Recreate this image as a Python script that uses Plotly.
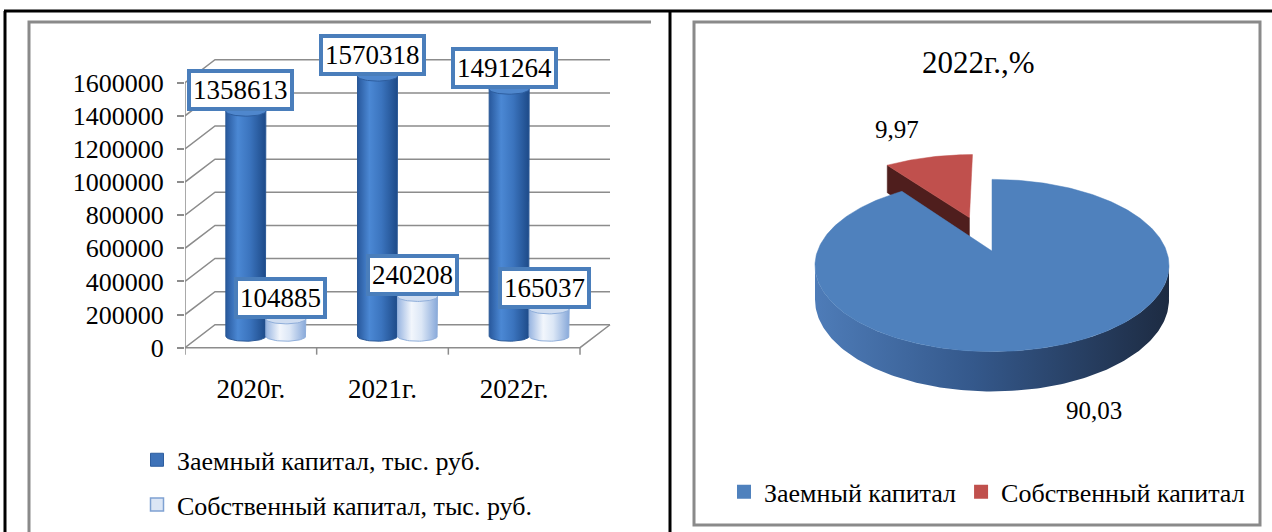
import math
import plotly.graph_objects as go

# ---------------- data ----------------
years = ["2020г.", "2021г.", "2022г."]
borrowed = [1358613, 1570318, 1491264]
equity = [104885, 240208, 165037]
bar_series = ["Заемный капитал, тыс. руб.", "Собственный капитал, тыс. руб."]
y_ticks = [0, 200000, 400000, 600000, 800000, 1000000, 1200000, 1400000, 1600000]

pie_title = "2022г.,%"
pie_labels = ["Заемный капитал", "Собственный капитал"]
pie_values = [90.03, 9.97]

# ---------------- layout constants ----------------
W, H = 1272, 532
FONT = "Liberation Serif, Times New Roman, serif"
GRID = "#8C8C8C"


def fx(p):
    return p / W


def fy(p):
    return (H - p) / H


# left chart scales (pixels)
UNIT_X = 131.67              # px per category
AX_Y0 = 349.0
UNIT_Y = 266.0 / 1600000     # px per value
DX = 30.0 / UNIT_X           # depth offset (x units)
DY = 23.0 / UNIT_Y           # depth offset (y units)
HW = 20.0 / UNIT_X           # cylinder half width
EH = 5.0 / UNIT_Y            # cylinder ellipse half height

XD = (185, 640)
YD_TOP, YD_BOT = 28, 362

fig = go.Figure()

# ---- gridlines / walls (3D) ----
gx, gy = [], []
for v in y_ticks:
    gx += [0, DX, 3 + DX, None]
    gy += [v, v + DY, v + DY, None]
gx += [0, 3, 3 + DX, None, 0, 0]
gy += [0, 0, DY, None, 0, y_ticks[-1]]
fig.add_trace(go.Scatter(x=gx, y=gy, mode="lines", line=dict(color=GRID, width=1.5),
                         hoverinfo="skip", showlegend=False))


# ---- cylinders ----
def cylinder(cx, value, body_scale, cap_color, cap_line, edge):
    b = DY / 2
    t = value + DY / 2
    xs = [cx - HW, cx - HW, cx + HW, cx + HW]
    ys = [b, t, t, b]
    n = 30
    for i in range(n + 1):
        ph = math.pi * i / n
        xs.append(cx + HW * math.cos(ph))
        ys.append(b - EH * math.sin(ph))
    fig.add_trace(go.Scatter(x=xs, y=ys, mode="lines", fill="toself",
                             line=dict(color=edge, width=1),
                             fillgradient=dict(type="horizontal", colorscale=body_scale),
                             hoverinfo="skip", showlegend=False))
    cxs, cys = [], []
    for i in range(61):
        ph = 2 * math.pi * i / 60
        cxs.append(cx + HW * math.cos(ph))
        cys.append(t + EH * math.sin(ph))
    fig.add_trace(go.Scatter(x=cxs, y=cys, mode="lines", fill="toself",
                             fillcolor=cap_color, line=dict(color=cap_line, width=1),
                             hoverinfo="skip", showlegend=False))


DARK_SCALE = [[0, "#28589C"], [0.3, "#4B88D4"], [0.6, "#3B74BE"], [1, "#1D4A88"]]
LIGHT_SCALE = [[0, "#98B5E1"], [0.35, "#F2F6FC"], [0.6, "#DCE7F6"], [1, "#88A9DA"]]

label_annotations = []
for i, yr in enumerate(years):
    c_dark = i + 0.5 + DX / 2 - HW
    c_light = i + 0.5 + DX / 2 + HW
    cylinder(c_dark, borrowed[i], DARK_SCALE, "#4F87CD", "#2E5E9F", "#2A5896")
    cylinder(c_light, equity[i], LIGHT_SCALE, "#CFDDF1", "#8FAEDA", "#8FAEDA")
    for cx, v in ((c_dark, borrowed[i]), (c_light, equity[i])):
        label_annotations.append(dict(
            x=cx, y=v + DY / 2, xref="x", yref="y", text=str(v), showarrow=False,
            yanchor="bottom", xanchor="center", xshift=-5, yshift=0,
            font=dict(family=FONT, size=27, color="black"),
            bgcolor="white", bordercolor="#4A7EBB", borderwidth=4, borderpad=2))

# legend entries for the bar chart
fig.add_trace(go.Scatter(x=[None], y=[None], mode="markers", name=bar_series[0],
                         marker=dict(symbol="square", size=13, color="#3E72B8",
                                     line=dict(color="#2E5E9F", width=1)),
                         legend="legend", legendgroup="a"))
fig.add_trace(go.Scatter(x=[None], y=[None], mode="markers", name=bar_series[1],
                         marker=dict(symbol="square", size=13, color="#DCE6F5",
                                     line=dict(color="#7FA1D2", width=1.5)),
                         legend="legend", legendgroup="b"))

# ---------------- pie (3D look with perspective) ----------------
CX, CY = 992.0, 252.0       # pie centre on screen
RX, RY = 174.5, 84.0        # radii of the tilted disc
PERSP = 0.1676              # perspective strength (back smaller)
DEPTH = 33.3                # thickness (scaled with perspective)
EXPL = 0.45                 # explosion of the second slice


def proj(u, v, dz=False):
    s = 1.0 / (1.0 + PERSP * v)
    x = CX + RX * u * s
    y = CY - RY * v * s
    if dz:
        y += DEPTH * s
    return x, y


def pt(a, ou=0.0, ov=0.0, dz=False):
    r = math.radians(a)
    return proj(ou + math.sin(r), ov + math.cos(r), dz)


total = sum(pie_values)
pie_colors = ["#4F81BD", "#C0504D"]
face_colors = ["#2B4669", "#4F1E1D"]
side_scales = [[[0, "#4E7CB8"], [0.45, "#34588B"], [1, "#1D2B42"]],
               [[0, "#A94744"], [0.5, "#7E3331"], [1, "#4F1E1D"]]]
explode = [0.0, EXPL]

slices = []
acc = 0.0
for i, v in enumerate(pie_values):
    a0 = 360 * acc / total
    acc += v
    a1 = 360 * acc / total
    mid = math.radians((a0 + a1) / 2)
    slices.append((a0, a1, explode[i] * math.sin(mid), explode[i] * math.cos(mid)))

SIL = math.degrees(math.asin(PERSP))
tops = []
for i, (a0, a1, ou, ov) in enumerate(slices):
    # cut faces
    for edge, normal in ((a0, a0 - 90), (a1, a1 + 90)):
        if math.cos(math.radians(normal)) < -1e-6:
            p_out = pt(edge, ou, ov)
            p_outd = pt(edge, ou, ov, True)
            v0 = proj(ou, ov)
            v0d = proj(ou, ov, True)
            fig.add_trace(go.Scatter(
                x=[p_out[0], v0[0], v0d[0], p_outd[0], p_out[0]],
                y=[p_out[1], v0[1], v0d[1], p_outd[1], p_out[1]],
                mode="lines", fill="toself", fillcolor=face_colors[i],
                line=dict(color=face_colors[i], width=0.5),
                xaxis="x2", yaxis="y2", hoverinfo="skip", showlegend=False))
    # outer side
    s0, s1 = max(a0, 90 + SIL), min(a1, 270 - SIL)
    if s1 > s0:
        n = int(s1 - s0) + 1
        angs = [s0 + (s1 - s0) * k / n for k in range(n + 1)]
        top_pts = [pt(a, ou, ov) for a in angs]
        bot_pts = [pt(a, ou, ov, True) for a in reversed(angs)]
        xs = [p[0] for p in top_pts + bot_pts] + [top_pts[0][0]]
        ys = [p[1] for p in top_pts + bot_pts] + [top_pts[0][1]]
        fig.add_trace(go.Scatter(
            x=xs, y=ys, mode="lines", fill="toself",
            fillgradient=dict(type="horizontal", colorscale=side_scales[i]),
            line=dict(width=0), xaxis="x2", yaxis="y2",
            hoverinfo="skip", showlegend=False))
    # top face
    n = max(int(a1 - a0), 4)
    angs = [a0 + (a1 - a0) * k / n for k in range(n + 1)]
    arc = [pt(a, ou, ov) for a in angs]
    vtx = proj(ou, ov)
    xs = [vtx[0]] + [p[0] for p in arc] + [vtx[0]]
    ys = [vtx[1]] + [p[1] for p in arc] + [vtx[1]]
    tops.append(go.Scatter(x=xs, y=ys, mode="lines", fill="toself",
                           fillcolor=pie_colors[i], line=dict(color=pie_colors[i], width=0.5),
                           xaxis="x2", yaxis="y2", hoverinfo="skip", showlegend=False))
for t in tops:
    fig.add_trace(t)

# pie legend
for i, name in enumerate(pie_labels):
    fig.add_trace(go.Scatter(x=[None], y=[None], mode="markers", name=name,
                             marker=dict(symbol="square", size=14, color=pie_colors[i]),
                             xaxis="x2", yaxis="y2", legend="legend2"))


# pie labels
def fmt(v):
    return f"{v:.2f}".replace(".", ",")


pie_label_pos = [(1094, 412), (897, 130)]
pie_annotations = []
for i, v in enumerate(pie_values):
    px, py = pie_label_pos[i]
    pie_annotations.append(dict(x=fx(px), y=fy(py), xref="paper", yref="paper",
                                xanchor="center", yanchor="middle",
                                text=fmt(v), showarrow=False,
                                font=dict(family=FONT, size=25, color="black")))
pie_annotations.append(dict(x=fx(978), y=fy(63), xref="paper", yref="paper",
                            xanchor="center", yanchor="middle",
                            text=pie_title, showarrow=False,
                            font=dict(family=FONT, size=31, color="black")))

# ---------------- frames ----------------
shapes = [
    dict(type="line", xref="paper", yref="paper", x0=fx(4), x1=fx(1272), y0=fy(11), y1=fy(11),
         line=dict(color="black", width=3)),
    dict(type="line", xref="paper", yref="paper", x0=fx(5), x1=fx(5), y0=fy(11), y1=fy(534),
         line=dict(color="black", width=3)),
    dict(type="line", xref="paper", yref="paper", x0=fx(670), x1=fx(670), y0=fy(11), y1=fy(534),
         line=dict(color="black", width=3)),
    dict(type="path", xref="paper", yref="paper",
         path=f"M {fx(29)},{fy(534)} L {fx(29)},{fy(22)} L {fx(651)},{fy(22)}",
         line=dict(color="#8A8A8A", width=3)),
    dict(type="rect", xref="paper", yref="paper", x0=fx(694), x1=fx(1260), y0=fy(527), y1=fy(22),
         line=dict(color="#8A8A8A", width=3)),
]
# category tick marks on the front edge
for k in range(4):
    shapes.append(dict(type="line", xref="x", yref="paper", x0=k, x1=k,
                       y0=fy(349), y1=fy(356), line=dict(color=GRID, width=1.5)))

fig.update_layout(
    width=W, height=H, margin=dict(l=0, r=0, t=0, b=0, pad=0),
    paper_bgcolor="white", plot_bgcolor="rgba(0,0,0,0)",
    font=dict(family=FONT, size=26, color="black"),
    xaxis=dict(domain=[fx(XD[0]), fx(XD[1])], range=[0, (XD[1] - XD[0]) / UNIT_X],
               tickvals=[0.5, 1.5, 2.5], ticktext=years, ticks="", showgrid=False,
               zeroline=False, showline=False, ticklabelstandoff=9,
               tickfont=dict(family=FONT, size=27, color="black"), anchor="y", fixedrange=True),
    yaxis=dict(domain=[fy(YD_BOT), fy(YD_TOP)],
               range=[-(YD_BOT - AX_Y0) / UNIT_Y, (AX_Y0 - YD_TOP) / UNIT_Y],
               tickvals=y_ticks, tickformat="d", ticks="outside", ticklen=7, tickcolor=GRID,
               tickwidth=1.5, showgrid=False, zeroline=False, showline=False,
               ticklabelstandoff=8,
               tickfont=dict(family=FONT, size=26, color="black"), anchor="x", fixedrange=True),
    xaxis2=dict(domain=[fx(700), fx(1255)], range=[700, 1255], visible=False, anchor="y2",
                fixedrange=True),
    yaxis2=dict(domain=[fy(440), fy(100)], range=[440, 100], visible=False, anchor="x2",
                fixedrange=True),
    legend=dict(x=fx(137), y=fy(438), xanchor="left", yanchor="top", orientation="v",
                bgcolor="rgba(0,0,0,0)", font=dict(family=FONT, size=26, color="black"),
                tracegroupgap=8, traceorder="grouped", itemclick=False),
    legend2=dict(x=fx(724), y=fy(470), xanchor="left", yanchor="top", orientation="h",
                 bgcolor="rgba(0,0,0,0)", font=dict(family=FONT, size=26, color="black"),
                 itemclick=False),
    shapes=shapes,
    annotations=label_annotations + pie_annotations,
    showlegend=True,
)

fig.write_html("out.html", config={"displayModeBar": False},
               post_script="document.body.style.margin='0';document.body.style.overflow='hidden';")
